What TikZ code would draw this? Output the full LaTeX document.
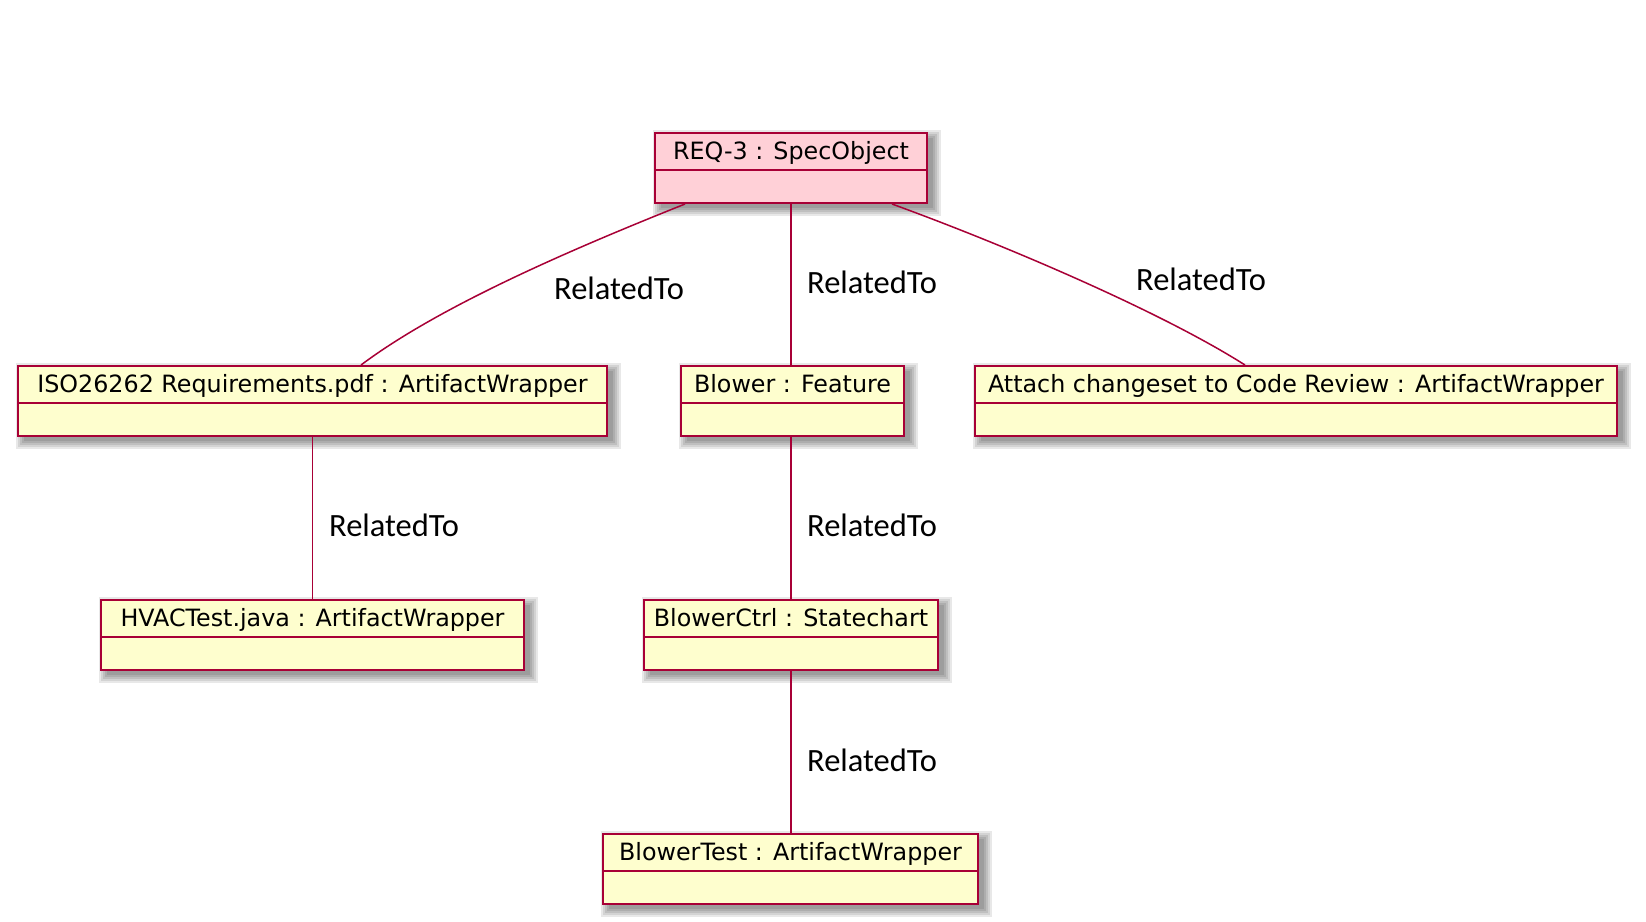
\documentclass[tikz,border=0pt]{standalone}
\usepackage{fontspec}
\newfontfamily\boxfont{DejaVu Sans}
\newfontfamily\labelfont{Carlito}
\definecolor{umlred}{HTML}{A80036}
\definecolor{umlyellow}{HTML}{FEFECE}
\definecolor{umlpink}{HTML}{FFD0D7}
\tikzset{
  boxshape/.style={draw=umlred, line width=2pt, rectangle, inner sep=0pt, minimum height=70pt},
  sepline/.style={draw=umlred, line width=2pt},
  boxtitle/.style={inner sep=0pt, font=\boxfont\fontsize{23.8}{28}\selectfont, text=black},
  rel/.style={draw=umlred, line width=1.5pt},
  rellabel/.style={inner sep=0pt, anchor=base west, font=\labelfont\fontsize{32.5}{38}\selectfont, text=black}
}
\newcommand\umlbox[6]{%
  \foreach \s in {0,2,4,6,8}{\fill[black,opacity=0.09] (#2-#4/2+6-\s, #3+6-\s) rectangle (#2+#4/2+6+\s, #3+76+\s);}
  \node[boxshape, fill=#5, minimum width=#4pt, anchor=north] (#1) at (#2,#3) {};
  \draw[sepline] ([yshift=-38pt]#1.north west) -- ([yshift=-38pt]#1.north east);
  \node[boxtitle, anchor=base] (#1-title) at ([yshift=-27.5pt]#1.north) {#6};
}
\begin{document}
\begin{tikzpicture}[x=1pt,y=-1pt]
\useasboundingbox[fill=white] (0,0) rectangle (1646,921);
\umlbox{req}{791}{132}{272}{umlpink}{REQ-3 : SpecObject}
\umlbox{iso}{312.5}{365}{589}{umlyellow}{ISO26262 Requirements.pdf : ArtifactWrapper}
\umlbox{blower}{792.5}{365}{223}{umlyellow}{Blower : Feature}
\umlbox{attach}{1296}{365}{642}{umlyellow}{Attach changeset to Code Review : ArtifactWrapper}
\umlbox{hvac}{312.5}{599}{423}{umlyellow}{HVACTest.java : ArtifactWrapper}
\umlbox{ctrl}{791}{599}{294}{umlyellow}{BlowerCtrl : Statechart}
\umlbox{btest}{790.5}{833}{375}{umlyellow}{BlowerTest : ArtifactWrapper}
% connectors
\draw[rel] ([xshift=-106pt]req.south) .. controls +(-110,44) and +(80,-60) .. ([xshift=48.5pt]iso.north);
\draw[rel] (req.south) -- (req.south |- blower.north);
\draw[rel] ([xshift=101pt]req.south) .. controls +(110,40) and +(-85,-54) .. ([xshift=-51pt]attach.north);
\draw[rel] (iso.south) -- (hvac.north);
\draw[rel] (ctrl.north |- blower.south) -- (ctrl.north);
\draw[rel] (ctrl.south) -- (ctrl.south |- btest.north);
% labels
\node[rellabel] (l1) at (554,299) {RelatedTo};
\node[rellabel] (l2) at (807,293) {RelatedTo};
\node[rellabel] (l3) at (1136,290) {RelatedTo};
\node[rellabel] (l4) at (329,536) {RelatedTo};
\node[rellabel] (l5) at (807,536) {RelatedTo};
\node[rellabel] (l6) at (807,771) {RelatedTo};
\end{tikzpicture}
\end{document}
